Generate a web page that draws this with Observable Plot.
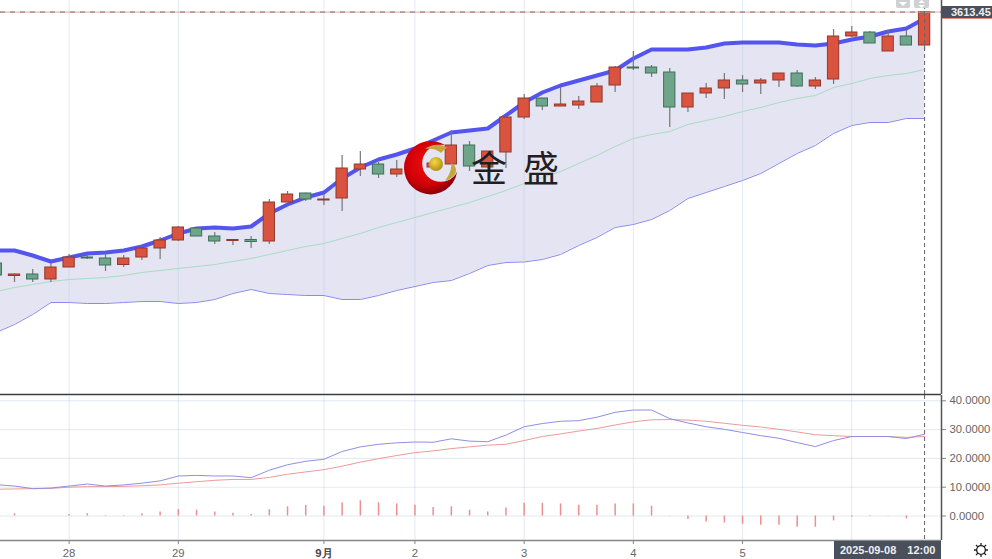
<!DOCTYPE html>
<html lang="zh">
<head>
<meta charset="utf-8">
<script src="https://cdn.jsdelivr.net/npm/d3@7"></script>
<script src="https://cdn.jsdelivr.net/npm/@observablehq/plot@0.6"></script>
<style>
html,body{margin:0;padding:0;background:#fff;overflow:hidden}
#root{position:relative;width:992px;height:559px;overflow:hidden;font-family:"Liberation Sans",Arial,sans-serif}
#top,#bottom{position:absolute;left:0}
#top{top:0}#bottom{top:394px}
#top svg,#bottom svg{display:block;background:transparent}
#deco{position:absolute;left:0;top:0}
.tag{position:absolute;color:#eef0f2;font-weight:bold;font-size:11px;white-space:pre;overflow:hidden}
#price{left:942px;top:6px;width:50px;height:13px;line-height:12px;background:#4a4f5c;border-bottom:1.5px solid #e88;padding-left:9px;box-sizing:border-box}
#date{left:834px;top:541px;width:107px;height:18px;line-height:18px;background:#4a4f5c;padding-left:6px;box-sizing:border-box}
#date span{margin-left:11px}
</style>
</head>
<body>
<div id="root">
  <div id="top"></div>
  <div id="bottom"></div>
  <svg id="deco" width="992" height="559" xmlns="http://www.w3.org/2000/svg">
    <defs>
      <radialGradient id="red" cx="0.45" cy="0.42" r="0.62">
        <stop offset="0" stop-color="#f01010"/><stop offset="0.65" stop-color="#d00008"/><stop offset="1" stop-color="#7a0006"/>
      </radialGradient>
      <radialGradient id="gold" cx="0.4" cy="0.35" r="0.7">
        <stop offset="0" stop-color="#f2d84a"/><stop offset="1" stop-color="#b08a10"/>
      </radialGradient>
      <mask id="hole" maskUnits="userSpaceOnUse" x="395" y="130" width="75" height="75">
        <rect x="395" y="130" width="75" height="75" fill="#fff"/>
        <circle cx="440.7" cy="163.3" r="18.5" fill="#000"/>
      </mask>
    </defs>
    <circle cx="430.7" cy="167.7" r="26.7" fill="url(#red)" mask="url(#hole)"/>
    <path d="M425 149 C430 144.5,440 143,447 147.5 C444 150,442.5 151,441 153 C437 149,431 148,425 149Z" fill="#c2a83a"/>
    <path d="M451.5 163 C455 165,457 169,455.5 173 C453.5 177,449 180,445 180.5 C449 176,451.5 170,451.5 163Z" fill="#c2a83a"/>
    <circle cx="436" cy="164" r="7" fill="url(#gold)"/>
    <text x="489" y="182" text-anchor="middle" font-family="'Noto Sans CJK SC'" font-size="36" fill="#231f1f">金</text>
    <text x="541" y="182" text-anchor="middle" font-family="'Noto Sans CJK SC'" font-size="36" fill="#231f1f">盛</text>
    <g>
      <rect x="896" y="-3" width="14" height="11" rx="2" fill="#cfd0d3"/>
      <path d="M899 2 L903 6 L907 2Z" fill="#fff"/>
      <rect x="914" y="-3" width="15" height="11" rx="2" fill="#cfd0d3"/>
      <path d="M918 3 L921.5 0 L925 3Z M918 5 L921.5 8 L925 5Z" fill="#fff"/>
    </g>
    <g transform="translate(981,550)" fill="none" stroke="#222" stroke-width="1.3">
      <circle r="4.4"/>
      <path d="M0-7V-4.4M0 7V4.4M-7 0H-4.4M7 0H4.4M-5-5L-3.1-3.1M5 5L3.1 3.1M-5 5L-3.1 3.1M5-5L3.1-3.1"/>
    </g>
  </svg>
  <div class="tag" id="price"></div>
  <div class="tag" id="date"></div>
</div>
<script>
const opens  = [3362,3349.5,3351,3346,3358,3368,3367,3360.5,3368,3377,3385,3397,3389,3384.5,3385.5,3384,3423,3432,3425,3427,3456,3461,3451,3457,3458,3461,3480,3458,3473,3508,3527,3519,3520,3523,3540,3558,3558,3553,3518,3532,3537,3545,3542,3545,3552,3539,3546,3589,3593,3574,3589,3580];
const closes = [3350,3351,3346,3358,3368,3367,3360,3367,3377,3385,3398,3389,3384,3385.5,3383.5,3423,3431,3426,3426,3457,3461,3451,3456,3462,3462,3480,3459,3474,3508,3527,3519,3521,3524,3539,3558,3557,3552,3518,3532,3537,3545,3541,3545,3552,3539,3545,3589,3593,3582,3589,3580,3613.45];
const highs  = [3364,3351.5,3356,3362,3371,3370,3371,3370,3378,3388,3399,3397,3393,3386,3389,3426,3434,3432.5,3431,3470,3474,3463,3465,3467,3465,3495,3484,3474,3509,3531,3527,3538,3529,3542,3559,3574,3560,3557,3532,3542,3552,3550,3547,3552,3555,3548,3596,3599,3594,3595,3595,3613.45];
const lows   = [3348,3343,3343,3343,3358,3366,3354,3358,3365,3366,3384,3389,3381,3380,3377,3381,3423,3424,3420,3414,3449,3447,3448,3455,3455,3461,3454,3458,3457,3506,3515,3519,3516,3523,3533,3555,3548,3498,3513,3527,3526,3533,3531,3538,3538,3536,3541,3588,3582,3574,3580,3575];
const upper  = [3375,3375,3370,3364,3368,3372,3373,3375,3379,3385,3392,3397,3398,3397,3399,3412,3421,3428,3433,3447,3458,3466,3471,3477,3485,3493,3495,3497,3510,3523,3533,3540,3545,3550,3555,3567,3576,3576,3576,3578,3582,3583,3583,3583,3581,3580,3582,3586,3589,3594,3597,3607];
const middle = [3334,3338,3341,3344,3346,3347,3348,3350,3353,3355,3357,3359,3361,3364,3367,3371,3375,3379,3382,3387,3392,3398,3403,3408,3413,3418,3423,3429,3435,3442,3448,3454,3462,3470,3479,3487,3491,3494,3501,3505,3509,3514,3518,3523,3527,3530,3538,3542,3547,3550,3552,3556];
const lower  = [3293,3301,3311,3323,3323,3322,3322,3323,3324,3324,3322,3323,3326,3332,3336,3332,3331,3330,3330,3326,3326,3330,3335,3339,3343,3345,3352,3360,3363,3363.5,3366,3371,3380,3388,3398,3401,3406,3415,3427,3433,3439,3445,3452,3462,3472,3480,3492,3500,3503,3503,3507,3507];
const dif    = [10.9,10.4,9.5,9.7,10.4,11.1,10.4,10.8,11.4,12.2,13.9,14.1,13.9,13.9,13.3,15.9,17.8,19,19.7,22.4,24,24.9,25.4,25.7,25.6,26.8,26,25.8,28.1,31,32.1,32.9,33.1,34.3,36,36.8,36.8,33.8,32.3,31,30.1,29,27.9,27,25.5,24.1,26.2,27.6,27.6,27.6,26.9,28.4];
const dea    = [9.3,9.4,9.5,9.6,10,10.2,10.2,10.3,10.5,10.8,11.4,11.9,12.4,12.7,12.7,13.4,14.5,15.3,16.1,17.3,18.7,19.9,21,22,22.6,23.4,24,24.6,24.9,26.2,27.6,28.5,29.5,30.4,31.6,32.7,33.4,33.5,33.3,32.9,32.2,31.5,30.9,30.1,29.2,28.2,27.9,27.6,27.6,27.6,27.3,27.6];
const hist   = [0,0.8,0,0,0.5,0.8,0.2,0.2,0.8,1.4,2.2,2,1.4,1,0.5,2.2,3.2,3.7,3.4,4.6,5.3,4.6,4.2,3.7,3,3.2,2,1.4,2.8,4.4,4.4,4.2,3.7,3.7,4.2,4.2,3.4,0.1,-1.2,-2.1,-2.4,-2.9,-3.2,-3.2,-3.9,-3.9,-1.7,-0.3,-0.2,-0.1,-1,0.1];
const dayTicks  = [4,10,18,23,29,35,41];
const dayLabels = ["28","29","9月","2","3","4","5"];
const gridIdx   = [4,10,18,23,29,35,41,47];
const macdTicks = [0,10,20,30,40];
const crossIdx  = 51;
const crossDay  = "2025-09-08";
const crossTime = "12:00";

const UP = "#d9533f", UPEDGE = "#8e3a2c", DOWN = "#6ea58a", DOWNEDGE = "#3f6f58";
const rows = opens.map((o,i)=>({i,open:o,close:closes[i],high:highs[i],low:lows[i],upper:upper[i],middle:middle[i],lower:lower[i],dif:dif[i],dea:dea[i],hist:hist[i],up:closes[i]>=o}));
const W = 992, xDomain = [0.23,51.93], xRange = [0,941];
const gridStroke = "rgba(185,203,225,0.42)";
const halfBar = 0.31;

const topPlot = Plot.plot({
  width:W,height:396,marginLeft:0,marginRight:51,marginTop:0,marginBottom:0,
  x:{domain:xDomain,range:xRange,axis:null},
  y:{domain:[3231,3625],range:[394,0],axis:null},
  marks:[
    Plot.areaY(rows,{x:"i",y1:"lower",y2:"upper",fill:"#e4e4f2",clip:true}),
    Plot.ruleX(gridIdx,{y1:3231,y2:3625,stroke:gridStroke,strokeWidth:1}),
    Plot.line(rows,{x:"i",y:"middle",stroke:"#a8dcc4",strokeWidth:1,clip:true}),
    Plot.line(rows,{x:"i",y:"lower",stroke:"#8a8aee",strokeWidth:1,clip:true}),
    Plot.line(rows,{x:"i",y:"upper",stroke:"#5454ee",strokeWidth:4,clip:true}),
    Plot.ruleX(rows,{x:"i",y1:"low",y2:"high",stroke:"#777",strokeWidth:1.2,clip:true}),
    Plot.rect(rows,{x1:d=>d.i-halfBar,x2:d=>d.i+halfBar,y1:"open",y2:"close",fill:d=>d.up?UP:DOWN,stroke:d=>d.up?UPEDGE:DOWNEDGE,strokeWidth:1,clip:true}),
    Plot.ruleY([closes[crossIdx]],{stroke:"#f0a0a0",strokeWidth:1}),
    Plot.ruleY([closes[crossIdx]],{stroke:"#777",strokeWidth:1,strokeDasharray:"5,5"}),
    Plot.ruleX([crossIdx],{y1:3231,y2:3625,stroke:"#666",strokeWidth:1,strokeDasharray:"4,3"}),
    Plot.ruleX([xDomain[1]],{y1:3231,y2:3625,stroke:"#555",strokeWidth:1.5}),
    Plot.ruleY([3231],{stroke:"#3c3c44",strokeWidth:1.5})
  ]
});
document.getElementById("top").append(topPlot);

const bottomPlot = Plot.plot({
  width:W,height:165,marginLeft:0,marginRight:51,marginTop:1,marginBottom:19,
  style:{fontSize:"11.3px",fontFamily:"'Liberation Sans',Arial,sans-serif",color:"#666",background:"transparent"},
  x:{domain:xDomain,range:xRange},
  y:{domain:[-8.5,41.84],range:[146,1]},
  marks:[
    Plot.ruleY(macdTicks,{stroke:gridStroke,strokeWidth:1}),
    Plot.ruleX(gridIdx,{stroke:gridStroke,strokeWidth:1}),
    Plot.ruleX(rows.filter(d=>d.hist!==0),{x:"i",y1:()=>0,y2:"hist",stroke:"#ee8f8f",strokeWidth:1.5}),
    Plot.line(rows,{x:"i",y:"dea",stroke:"#ee9a9a",strokeWidth:1,clip:true}),
    Plot.line(rows,{x:"i",y:"dif",stroke:"#8f8fe6",strokeWidth:1,clip:true}),
    Plot.ruleX([crossIdx],{stroke:"#666",strokeWidth:1,strokeDasharray:"4,3"}),
    Plot.axisX({ticks:dayTicks.filter(t=>t!==18),tickSize:4,tickPadding:4,tickFormat:t=>dayLabels[dayTicks.indexOf(t)],label:null,stroke:"#888",fill:"#666"}),
    Plot.axisX({ticks:[18],tickSize:4,tickPadding:4,tickFormat:t=>dayLabels[dayTicks.indexOf(t)],label:null,fontWeight:"bold",stroke:"#888",fill:"#444"}),
    Plot.axisY({anchor:"right",ticks:macdTicks,tickSize:4,tickPadding:4,tickFormat:d=>d.toFixed(4),label:null,stroke:"#888",fill:"#666",textAnchor:"start"}),
    Plot.ruleX([xDomain[1]],{stroke:"#555",strokeWidth:1.5}),
    Plot.ruleY([-8.5],{stroke:"#888",strokeWidth:1.5})
  ]
});
document.getElementById("bottom").append(bottomPlot);

document.getElementById("price").textContent = closes[crossIdx].toFixed(2);
const dateTag = document.getElementById("date");
dateTag.append(crossDay);
const timeSpan = document.createElement("span");
timeSpan.textContent = crossTime;
dateTag.append(timeSpan);
</script>
</body>
</html>
